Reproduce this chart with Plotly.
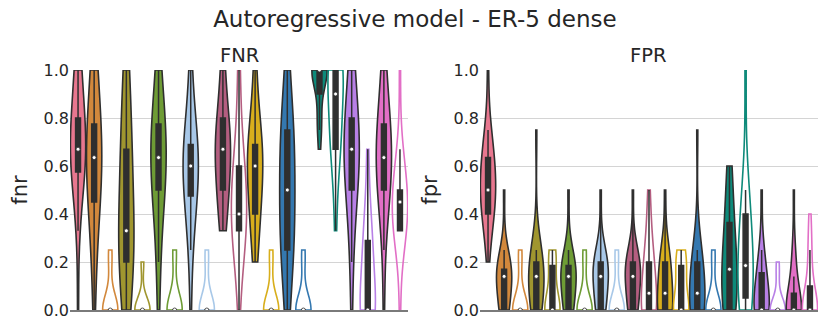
import numpy as np
import plotly.graph_objects as go
from plotly.subplots import make_subplots

# colour of each method; the first one has only the filled variant
COLORS = ['#e8778f', '#d2883c', '#a0962f', '#6e9c35', '#a8c8e8', '#b45e80',
          '#d8ae1c', '#3478b0', '#0e8a7a', '#b880e6', '#e26fc6']
DARK = '#2f2f2f'

# each violin: (values, counts)
FNR_FILLED = [
    ([0, 0.33, 0.5, 0.6, 0.67, 0.75, 0.8, 1.0], [1, 1, 4, 2, 6, 3, 3, 5]),
    ([0, 0.2, 0.4, 0.5, 0.6, 0.67, 0.75, 0.8, 1.0], [1, 2, 3, 3, 3, 3, 3, 2, 4]),
    ([0, 0.2, 0.25, 0.33, 0.5, 0.67, 0.8, 1.0], [3, 4, 2, 4, 3, 4, 2, 3]),
    ([0, 0.2, 0.4, 0.5, 0.6, 0.67, 0.75, 0.8, 1.0], [1, 2, 2, 4, 3, 3, 3, 3, 3]),
    ([0, 0.25, 0.4, 0.5, 0.6, 0.67, 0.75, 0.8, 1.0], [1, 2, 3, 4, 5, 4, 2, 2, 2]),
    ([0.33, 0.4, 0.5, 0.6, 0.67, 0.75, 0.8, 1.0], [2, 2, 4, 3, 5, 2, 4, 3]),
    ([0.2, 0.33, 0.4, 0.5, 0.6, 0.67, 0.75, 0.8, 1.0], [2, 2, 3, 3, 5, 4, 2, 2, 2]),
    ([0, 0.2, 0.25, 0.33, 0.4, 0.5, 0.6, 0.67, 0.75, 0.8, 1.0], [2, 2, 3, 2, 2, 3, 2, 2, 3, 2, 2]),
    ([0.67, 0.75, 0.8, 1.0], [1, 1, 3, 15]),
    ([0, 0.2, 0.33, 0.5, 0.6, 0.67, 0.75, 0.8, 1.0], [1, 1, 2, 4, 3, 4, 3, 3, 4]),
    ([0, 0.25, 0.4, 0.5, 0.6, 0.67, 0.75, 0.8, 1.0], [1, 1, 2, 4, 4, 3, 3, 3, 3]),
]
FNR_OUTLINE = [
    ([0, 0.2, 0.25], [16, 2, 2]),
    ([0, 0.2], [17, 3]),
    ([0, 0.2, 0.25], [16, 1, 3]),
    ([0, 0.2, 0.25], [16, 2, 2]),
    ([0, 0.2, 0.25, 0.33, 0.4, 0.5, 0.6, 0.75, 1.0], [1, 2, 2, 3, 5, 4, 4, 2, 2]),
    ([0, 0.2, 0.25], [16, 2, 2]),
    ([0, 0.2, 0.25], [16, 2, 2]),
    ([0.33, 0.5, 0.67, 0.75, 0.8, 1.0], [1, 1, 4, 1, 3, 10]),
    ([0, 0.2, 0.25, 0.33, 0.5, 0.67], [11, 2, 2, 3, 1, 1]),
    ([0, 0.33, 0.4, 0.5, 0.6, 0.67, 1.0], [1, 6, 3, 6, 2, 1, 1]),
]
FPR_FILLED = [
    ([0.2, 0.33, 0.4, 0.5, 0.6, 0.67, 0.75, 1.0], [1, 2, 4, 7, 4, 3, 2, 1]),
    ([0, 0.1, 0.14, 0.17, 0.2, 0.25, 0.5], [6, 2, 4, 4, 2, 1, 1]),
    ([0, 0.1, 0.14, 0.17, 0.2, 0.25, 0.75], [6, 2, 3, 2, 5, 1, 1]),
    ([0, 0.1, 0.14, 0.17, 0.2, 0.25, 0.5], [6, 2, 4, 3, 3, 1, 1]),
    ([0, 0.1, 0.14, 0.17, 0.2, 0.25, 0.5], [6, 2, 3, 2, 5, 1, 1]),
    ([0, 0.1, 0.14, 0.17, 0.2, 0.25, 0.5], [6, 2, 3, 2, 5, 1, 1]),
    ([0, 0.14, 0.2, 0.25, 0.5], [10, 4, 3, 2, 1]),
    ([0, 0.14, 0.2, 0.25, 0.75], [10, 4, 3, 2, 1]),
    ([0, 0.1, 0.17, 0.2, 0.33, 0.4, 0.5, 0.6], [6, 1, 4, 2, 2, 2, 1, 2]),
    ([0, 0.1, 0.14, 0.17, 0.25, 0.5], [11, 2, 2, 2, 2, 1]),
    ([0, 0.14, 0.2, 0.25, 0.5], [15, 1, 2, 1, 1]),
]
FPR_OUTLINE = [
    ([0, 0.2, 0.25], [16, 2, 2]),
    ([0, 0.17, 0.2, 0.25], [13, 2, 2, 3]),
    ([0, 0.2, 0.25], [16, 2, 2]),
    ([0, 0.2, 0.25], [16, 2, 2]),
    ([0, 0.14, 0.2, 0.25, 0.33, 0.4, 0.5], [10, 3, 3, 1, 1, 1, 1]),
    ([0, 0.14, 0.17, 0.2, 0.25], [11, 2, 2, 2, 3]),
    ([0, 0.2, 0.25], [16, 2, 2]),
    ([0, 0.1, 0.17, 0.2, 0.33, 0.4, 0.5, 1.0], [5, 2, 3, 3, 1, 3, 2, 1]),
    ([0, 0.14, 0.2], [16, 2, 2]),
    ([0, 0.2, 0.25, 0.33, 0.4], [15, 2, 1, 1, 1]),
]

fig = make_subplots(rows=1, cols=2, subplot_titles=('FNR', 'FPR'),
                    horizontal_spacing=0.0962)


def add_violin(col, pos, vals, counts, color, filled):
    y = np.repeat(np.array(vals, float), counts)
    bw = max(1.3 * np.std(y, ddof=1) * len(y) ** -0.2, 0.01)
    fig.add_trace(go.Violin(
        x0=pos, y=y, width=0.95, scalemode='width', spanmode='hard', bandwidth=bw,
        points=False, fillcolor=color if filled else 'rgba(255,255,255,0)',
        line=dict(color=DARK if filled else color, width=1.6),
        box=dict(visible=True, width=0.32, fillcolor=DARK, line=dict(color=DARK, width=1.5)),
        meanline=dict(visible=False), hoverinfo='skip', showlegend=False,
    ), row=1, col=col)
    fig.add_trace(go.Scatter(
        x=[pos], y=[np.median(y)], mode='markers', hoverinfo='skip', showlegend=False,
        marker=dict(color='white', size=4, line=dict(color=DARK, width=0.8)),
    ), row=1, col=col)


for col, filled_list, outline_list in [(1, FNR_FILLED, FNR_OUTLINE), (2, FPR_FILLED, FPR_OUTLINE)]:
    add_violin(col, 0, *filled_list[0], COLORS[0], True)
    for i in range(1, len(COLORS)):
        add_violin(col, 2 * i - 1, *filled_list[i], COLORS[i], True)
        add_violin(col, 2 * i, *outline_list[i - 1], COLORS[i], False)

fig.update_xaxes(range=[-0.5, 20.5], showticklabels=False, ticks='', showgrid=False,
                 zeroline=False, showline=True, linecolor='#7a7a7a', linewidth=1.5)
fig.update_yaxes(range=[0, 1], dtick=0.2, tickformat='.1f', showgrid=True, gridcolor='#d4d4d4',
                 gridwidth=1, zeroline=False, showline=False, ticks='',
                 tickfont=dict(size=16, color='#262626'))
fig.update_yaxes(title=dict(text='fnr', font=dict(size=21, color='#262626'), standoff=10), row=1, col=1)
fig.update_yaxes(title=dict(text='fpr', font=dict(size=21, color='#262626'), standoff=10), row=1, col=2)

for ann in fig.layout.annotations:
    ann.font = dict(size=19.5, color='#262626')
    ann.yshift = 1

# the page body has an 8px margin; the figure is sized to fit the window after it
fig.update_layout(
    width=822, height=324, margin=dict(l=62, r=12, t=62, b=22),
    title=dict(text='Autoregressive model - ER-5 dense', x=0.495, xanchor='center',
               y=0.966, yanchor='middle', font=dict(size=23, color='#262626')),
    font=dict(family='DejaVu Sans'), violinmode='overlay', violingap=0,
    plot_bgcolor='white', paper_bgcolor='white',
)
fig.write_html('out.html')
